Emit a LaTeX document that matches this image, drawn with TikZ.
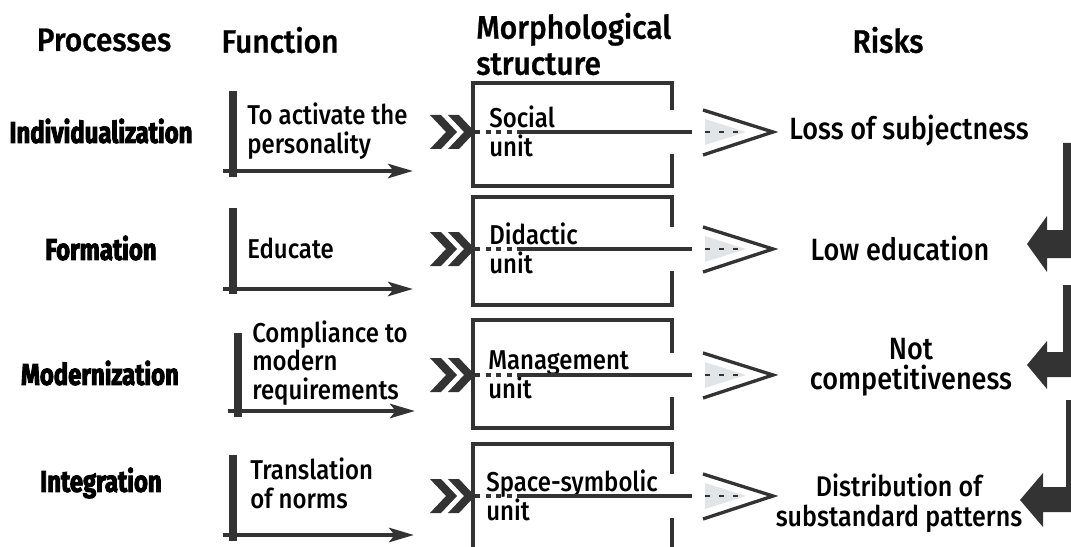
\documentclass[tikz,border=0pt]{standalone}
\usepackage{fontspec}
\setmainfont{Fira Sans Medium}[FakeStretch=0.88]
\newfontfamily\headfont{Fira Sans Medium}[FakeStretch=0.92, FakeBold=0.8]
\newfontfamily\procfont{Fira Sans Bold}[FakeStretch=0.8, FakeBold=3]
\usetikzlibrary{arrows.meta}
\definecolor{ink}{HTML}{333333}
\definecolor{haze}{HTML}{E1E5E8}

\tikzset{
  heading/.style={font=\headfont\fontsize{18.5}{20.5}\selectfont, inner sep=0pt},
  process/.style={font=\procfont\fontsize{17}{19}\selectfont, inner sep=0pt},
  functext/.style={font=\fontsize{15.5}{16.4}\selectfont, align=left, anchor=west, inner sep=0pt},
  unittext/.style={font=\fontsize{15.5}{16.4}\selectfont, align=left, anchor=west, inner sep=0pt},
  risktext/.style={font=\fontsize{17.5}{17}\selectfont, align=center, inner sep=0pt},
  bar/.style={ink, line width=4.5pt},
  flow/.style={ink, line width=2.6pt, -{Stealth[length=14pt, width=8pt, inset=3pt]}},
  frame/.style={ink, line width=2.8pt},
  pass/.style={ink, line width=1.9pt},
  dots/.style={ink, line width=1.6pt, dash pattern=on 3pt off 5pt},
  chev/.style={fill=ink},
  fat/.style={fill=ink}
}

\begin{document}
\begin{tikzpicture}[x=0.02cm, y=-0.02cm]
    \useasboundingbox (0,0) rectangle (1071,547);
    \clip (0,0) rectangle (1071,547);

    % headings
    \node[heading] (hp) at (104,40) {Processes};
    \node[heading] (hf) at (280,40) {Function};
    \node[heading, align=left, anchor=west] (hm) at (476,44) {Morphological\\structure};
    \node[heading] (hr) at (888,40) {Risks};

    % processes
    \node[process] (p1) at (101,131) {Individualization};
    \node[process] (p2) at (101,248) {Formation};
    \node[process] (p3) at (100,373) {Modernization};
    \node[process] (p4) at (101,483) {Integration};

    % functions
    \node[functext] (f1) at (247,131) {To activate the\\personality};
    \node[functext] (f2) at (247,248) {Educate};
    \node[functext] (f3) at (252,363) {Compliance to\\modern\\requirements};
    \node[functext] (f4) at (250,483) {Translation\\of norms};

    \coordinate (b1t) at (233,91);  \coordinate (b1b) at (233,177);
    \coordinate (b2t) at (233,208); \coordinate (b2b) at (233,294);
    \coordinate (b3t) at (238,333); \coordinate (b3b) at (238,417);
    \coordinate (b4t) at (233,455); \coordinate (b4b) at (233,541);
    \draw[bar] (b1t) -- (b1b);
    \draw[bar] (b2t) -- (b2b);
    \draw[bar] (b3t) -- (b3b);
    \draw[bar] (b4t) -- (b4b);

    \coordinate (a1s) at (223,171); \coordinate (a1e) at (413,171);
    \coordinate (a2s) at (223,289); \coordinate (a2e) at (413,289);
    \coordinate (a3s) at (228,411); \coordinate (a3e) at (415,411);
    \coordinate (a4s) at (223,535); \coordinate (a4e) at (414,535);
    \draw[flow] (a1s) -- (a1e);
    \draw[flow] (a2s) -- (a2e);
    \draw[flow] (a3s) -- (a3e);
    \draw[flow] (a4s) -- (a4e);

    % double chevrons
    \fill[chev] (430,115) -- (441,115) -- (457,132) -- (441,149) -- (430,149) -- (446,132) -- cycle;
    \fill[chev] (448,115) -- (459,115) -- (475,132) -- (459,149) -- (448,149) -- (464,132) -- cycle;
    \fill[chev] (430,232) -- (441,232) -- (457,249) -- (441,266) -- (430,266) -- (446,249) -- cycle;
    \fill[chev] (448,232) -- (459,232) -- (475,249) -- (459,266) -- (448,266) -- (464,249) -- cycle;
    \fill[chev] (430,358) -- (441,358) -- (457,375) -- (441,392) -- (430,392) -- (446,375) -- cycle;
    \fill[chev] (448,358) -- (459,358) -- (475,375) -- (459,392) -- (448,392) -- (464,375) -- cycle;
    \fill[chev] (430,479) -- (441,479) -- (457,496) -- (441,513) -- (430,513) -- (446,496) -- cycle;
    \fill[chev] (448,479) -- (459,479) -- (475,496) -- (459,513) -- (448,513) -- (464,496) -- cycle;

    % morphological units
    \draw[frame] (672,110) -- (672,83) -- (473,83) -- (473,186) -- (672,186) -- (672,154);
    \draw[frame] (672,227) -- (672,197) -- (473,197) -- (473,305) -- (672,305) -- (672,271);
    \draw[frame] (672,353) -- (672,320) -- (473,320) -- (473,428) -- (672,428) -- (672,397);
    \draw[frame] (672,474) -- (672,444) -- (473,444) -- (473,570) -- (672,570) -- (672,518);

    \node[unittext] (u1) at (489,131) {Social\\unit};
    \node[unittext] (u2) at (489,248) {Didactic\\unit};
    \node[unittext] (u3) at (488,375) {Management\\unit};
    \node[unittext] (u4) at (486,495) {Space-symbolic\\unit};

    \coordinate (i1) at (475,132); \coordinate (m1) at (520,132); \coordinate (o1) at (692,132);
    \coordinate (i2) at (475,249); \coordinate (m2) at (520,249); \coordinate (o2) at (692,249);
    \coordinate (i3) at (475,375); \coordinate (m3) at (520,375); \coordinate (o3) at (692,375);
    \coordinate (i4) at (475,496); \coordinate (m4) at (520,496); \coordinate (o4) at (692,496);
    \draw[pass, dashed] (i1) -- (m1); \draw[pass] (m1) -- (o1);
    \draw[pass, dashed] (i2) -- (m2); \draw[pass] (m2) -- (o2);
    \draw[pass, dashed] (i3) -- (m3); \draw[pass] (m3) -- (o3);
    \draw[pass, dashed] (i4) -- (m4); \draw[pass] (m4) -- (o4);

    % open chevrons towards the risks
    \fill[haze] (705,119) -- (746,132) -- (705,145) -- cycle;
    \fill[haze] (705,236) -- (746,249) -- (705,262) -- cycle;
    \fill[haze] (705,362) -- (746,375) -- (705,388) -- cycle;
    \fill[haze] (705,483) -- (746,496) -- (705,509) -- cycle;
    \draw[dots] (705,132) -- (742,132);
    \draw[dots] (705,249) -- (742,249);
    \draw[dots] (705,375) -- (742,375);
    \draw[dots] (705,496) -- (742,496);
    \draw[pass] (703,110) -- (773,132) -- (703,155);
    \draw[pass] (703,227) -- (773,249) -- (703,272);
    \draw[pass] (703,353) -- (773,375) -- (703,398);
    \draw[pass] (703,474) -- (773,496) -- (703,519);

    % risks
    \node[risktext] (r1) at (909,131) {Loss of subjectness};
    \node[risktext] (r2) at (900,248) {Low education};
    \node[risktext] (r3) at (911,367) {Not\\competitiveness};
    \node[risktext, font=\fontsize{16.2}{17}\selectfont] (r4) at (899,503) {Distribution of\\substandard patterns};

    % fat arrows on the right
    \fill[fat] (1063,143) -- (1090,143) -- (1090,258) -- (1047,258) -- (1047,272) -- (1027,244) -- (1047,216) -- (1047,230) -- (1063,230) -- cycle;
    \fill[fat] (1063,285) -- (1090,285) -- (1090,377) -- (1047,377) -- (1047,389) -- (1027,365) -- (1047,341) -- (1047,352) -- (1063,352) -- cycle;
    \fill[fat] (1066,400) -- (1090,400) -- (1090,512) -- (1043,512) -- (1043,527) -- (1020,500) -- (1043,473) -- (1043,487) -- (1066,487) -- cycle;
\end{tikzpicture}
\end{document}
